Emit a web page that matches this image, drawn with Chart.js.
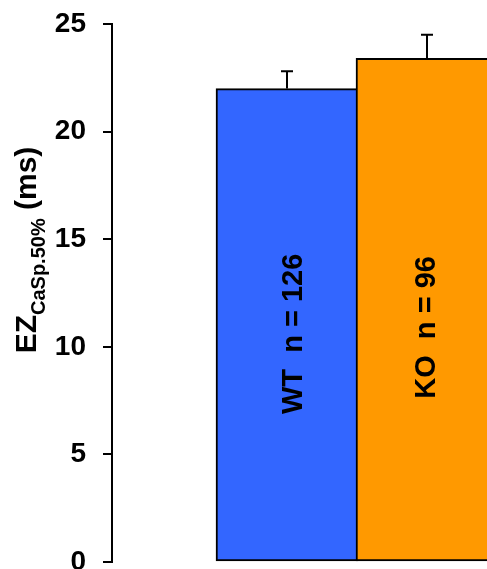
<!DOCTYPE html>
<html>
<head>
<meta charset="utf-8">
<script src="https://cdn.jsdelivr.net/npm/chart.js@4.4.1/dist/chart.umd.min.js"></script>
<style>
  html, body { margin: 0; padding: 0; background: #fff; }
  #wrap { position: relative; width: 487px; height: 569px; overflow: hidden; }
  canvas { position: absolute; left: 0; top: 0; }
</style>
</head>
<body>
<div id="wrap"><canvas id="c" width="567" height="600"></canvas></div>
<script>
// Groups, means and standard errors of the spark duration
const groups = ['WT', 'KO'];
const groupCounts = [126, 96];
const groupPositions = [1, 2];
const meanValues = [22.0, 23.4];
const errorValues = [0.8, 1.1];
const yTicks = [0, 5, 10, 15, 20, 25];

const FONT = '"Liberation Sans", Arial, Helvetica, sans-serif';

// Upward error bars with a short cap
const errorBars = {
  id: 'errorBars',
  afterDatasetsDraw(chart) {
    const { ctx, scales: { y } } = chart;
    const meta = chart.getDatasetMeta(0);
    ctx.save();
    ctx.strokeStyle = '#000';
    ctx.lineWidth = 2;
    meta.data.forEach((bar, i) => {
      const top = y.getPixelForValue(meanValues[i]);
      const end = y.getPixelForValue(meanValues[i] + errorValues[i]);
      const x = Math.round(bar.x);
      ctx.beginPath();
      ctx.moveTo(x, top);
      ctx.lineTo(x, end);
      ctx.moveTo(x - 6, end);
      ctx.lineTo(x + 6, end);
      ctx.stroke();
    });
    ctx.restore();
  }
};

// Vertical group label inside each bar
const barLabels = {
  id: 'barLabels',
  afterDatasetsDraw(chart, args, opts) {
    const { ctx, scales: { y } } = chart;
    const meta = chart.getDatasetMeta(0);
    ctx.save();
    ctx.fillStyle = '#000';
    ctx.font = 'bold 29px ' + FONT;
    ctx.textAlign = 'center';
    ctx.textBaseline = 'alphabetic';
    meta.data.forEach((bar, i) => {
      const text = groups[i] + '  n = ' + groupCounts[i];
      ctx.save();
      ctx.translate(bar.x + opts.baselineShift[i], y.getPixelForValue(opts.centerValue[i]));
      ctx.rotate(-Math.PI / 2);
      ctx.fillText(text, 0, 0);
      ctx.restore();
    });
    ctx.restore();
  }
};

// Y axis title with subscript
const yTitle = {
  id: 'yTitle',
  afterDraw(chart) {
    const { ctx } = chart;
    const parts = [
      { t: 'EZ', f: 'bold 30px ' + FONT, dy: 0 },
      { t: 'CaSp.50%', f: 'bold 20px ' + FONT, dy: 9 },
      { t: ' (ms)', f: 'bold 30px ' + FONT, dy: 0 }
    ];
    ctx.save();
    let total = 0;
    parts.forEach(p => { ctx.font = p.f; p.w = ctx.measureText(p.t).width; total += p.w; });
    ctx.translate(36, 250);
    ctx.rotate(-Math.PI / 2);
    ctx.fillStyle = '#000';
    ctx.textAlign = 'left';
    ctx.textBaseline = 'alphabetic';
    let x = -total / 2;
    parts.forEach(p => { ctx.font = p.f; ctx.fillText(p.t, x, p.dy); x += p.w; });
    ctx.restore();
  }
};

new Chart(document.getElementById('c'), {
  type: 'bar',
  data: {
    datasets: [{
      data: groupPositions.map((x, i) => ({ x: x, y: meanValues[i] })),
      backgroundColor: ['#3366FF', '#FF9900'],
      borderColor: '#000',
      borderWidth: 2,
      borderSkipped: false,
      barThickness: 142
    }]
  },
  options: {
    responsive: false,
    animation: false,
    layout: { padding: { top: 24, bottom: 38, left: 0, right: 0 } },
    plugins: {
      legend: { display: false },
      tooltip: { enabled: false },
      barLabels: { centerValue: [10.6, 10.9], baselineShift: [15, 8] }
    },
    scales: {
      x: {
        type: 'linear',
        offset: false,
        min: -0.25,
        max: 3,
        display: false
      },
      y: {
        min: 0,
        max: 25,
        afterFit(scale) {
          scale.width = 112;
          scale.paddingTop = 17;
          scale.paddingBottom = 17;
        },
        afterBuildTicks(scale) { scale.ticks = yTicks.map(v => ({ value: v })); },
        ticks: {
          color: '#000',
          padding: 17,
          font: { family: FONT, size: 28, weight: 'bold' }
        },
        grid: {
          drawOnChartArea: false,
          drawTicks: true,
          tickLength: 9,
          color: '#000',
          lineWidth: 2
        },
        border: { display: true, color: '#000', width: 2 }
      }
    }
  },
  plugins: [errorBars, barLabels, yTitle]
});
</script>
</body>
</html>
